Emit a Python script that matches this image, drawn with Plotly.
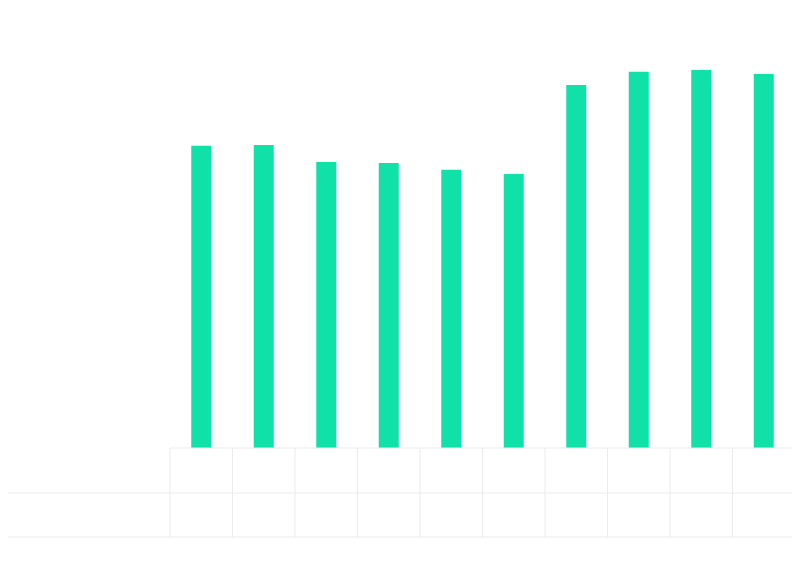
import plotly.graph_objects as go

categories = ["1", "2", "3", "4", "5", "6", "7", "8", "9", "10"]
values = [70.6, 70.8, 66.8, 66.6, 65.0, 64.0, 84.8, 87.9, 88.3, 87.4]

BAR_COLOR = "#10e1a9"
GRID = "#ebebeb"

fig = go.Figure()
fig.add_trace(go.Bar(x=categories, y=values, marker=dict(color=BAR_COLOR, line=dict(width=0)),
                     hoverinfo="skip"))

# page adds an 8px body margin, so shrink the figure to land where the reference is
plot_h = 428
plot_w = 625
row1 = -45 / plot_h
row2 = -89 / plot_h
left = -162 / plot_w

shapes = []
# table grid below the bars
shapes.append(dict(type="line", xref="paper", yref="paper", x0=0, x1=1, y0=0, y1=0,
                   line=dict(color=GRID, width=1)))
for yy in (row1, row2):
    shapes.append(dict(type="line", xref="paper", yref="paper", x0=left, x1=1, y0=yy, y1=yy,
                       line=dict(color=GRID, width=1)))
for k in range(len(categories) + 1):
    shapes.append(dict(type="line", xref="paper", yref="paper", x0=k / len(categories),
                       x1=k / len(categories), y0=0, y1=row2, line=dict(color=GRID, width=1)))

fig.update_layout(
    width=792, height=561,
    margin=dict(l=162, r=5, t=12, b=121),
    paper_bgcolor="white", plot_bgcolor="white",
    bargap=0.68,
    showlegend=False,
    shapes=shapes,
    xaxis=dict(range=[-0.5, 9.5], showticklabels=False, showgrid=False, zeroline=False,
               showline=False, ticks=""),
    yaxis=dict(range=[0, 100], showticklabels=False, showgrid=False, zeroline=False,
               showline=False, ticks=""),
)

fig.write_html("out.html")
